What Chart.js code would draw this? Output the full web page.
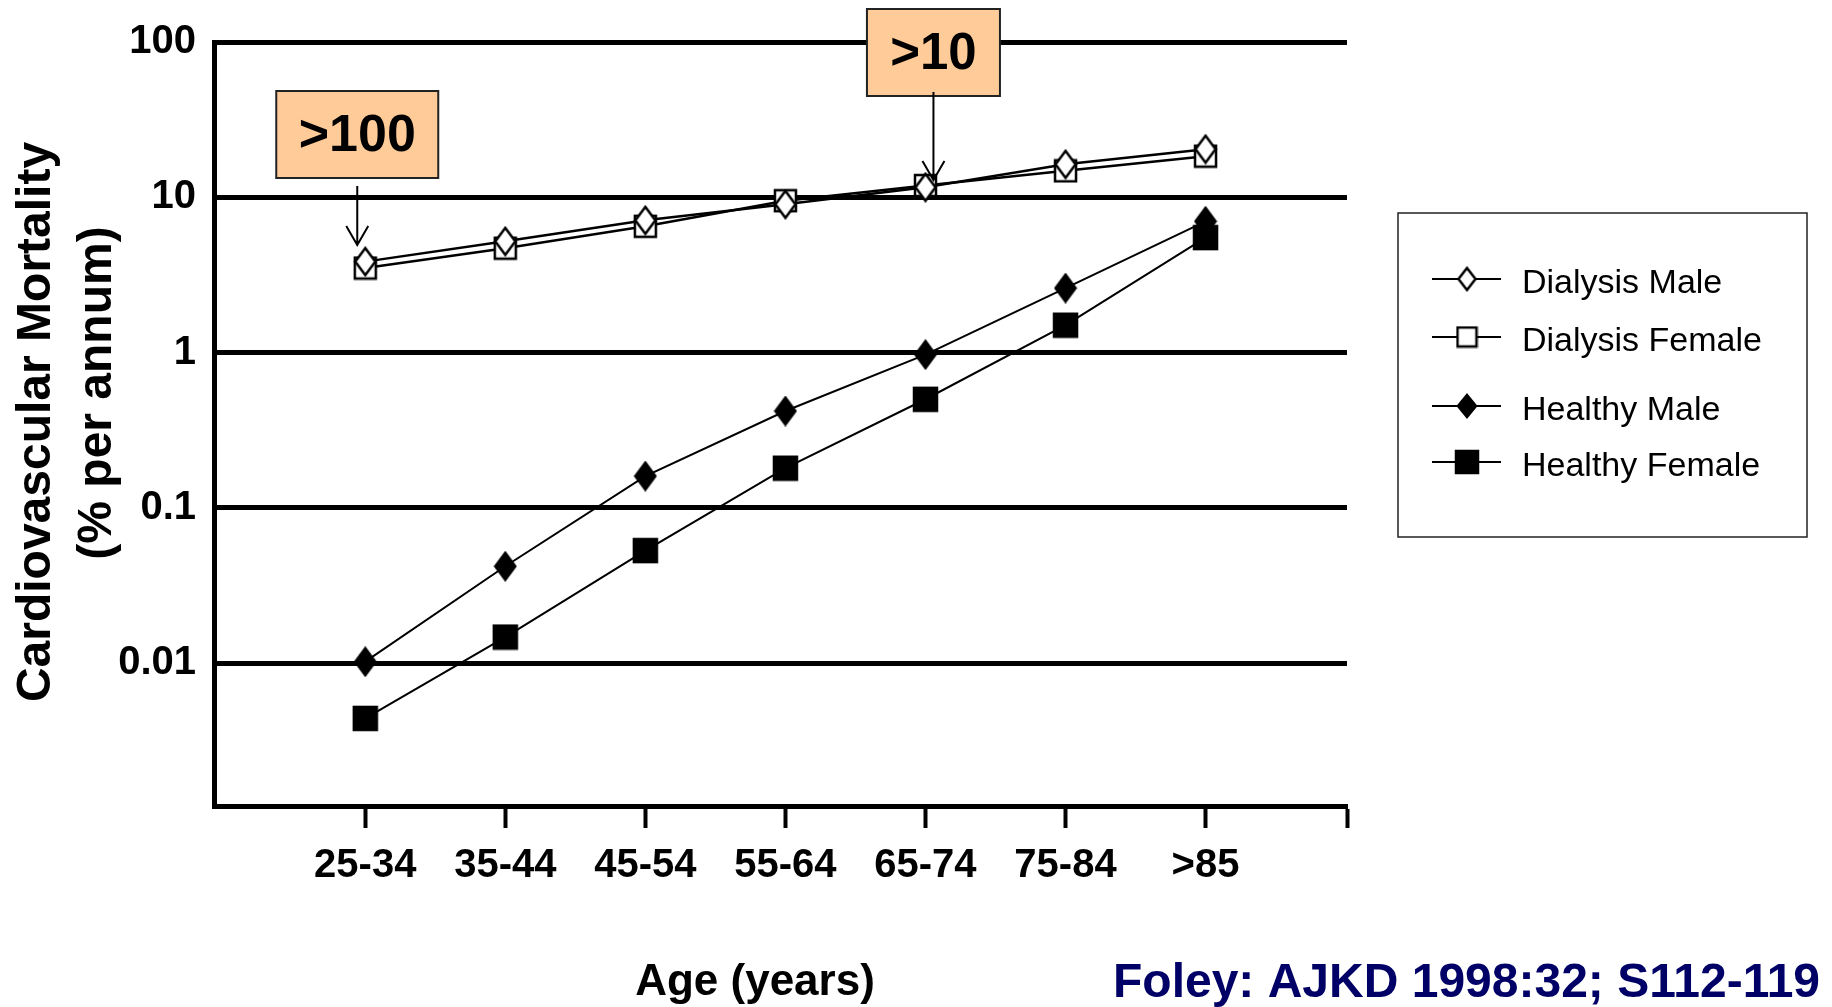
<!DOCTYPE html>
<html>
<head>
<meta charset="utf-8">
<script src="https://cdn.jsdelivr.net/npm/chart.js@4/dist/chart.umd.min.js"></script>
<style>
  html, body { margin: 0; padding: 0; background: #fff; }
  #wrap { width: 1832px; height: 1007px; }
</style>
</head>
<body>
<div id="wrap"><canvas id="chart" width="1832" height="1007"></canvas></div>
<script>
// data
const ageGroups = ['25-34', '35-44', '45-54', '55-64', '65-74', '75-84', '>85'];
const dialysisMale = [3.85, 5.2, 7.1, 9.0, 11.6, 16.3, 20.4];
const dialysisFemale = [3.5, 4.7, 6.5, 9.5, 11.9, 14.8, 18.4];
const healthyMale = [0.0102, 0.042, 0.16, 0.42, 0.97, 2.6, 7.0];
const healthyFemale = [0.0044, 0.0147, 0.053, 0.18, 0.50, 1.5, 5.5];
const yTickValues = [0.01, 0.1, 1, 10, 100];
const yTickLabels = ['0.01', '0.1', '1', '10', '100'];

const FONT = '"Liberation Sans", Arial, sans-serif';

// marker images (diamonds in the original are taller than wide)
function marker(shape, filled, w, h) {
    const c = document.createElement('canvas');
    c.width = w + 4;
    c.height = h + 4;
    const g = c.getContext('2d');
    const cx = c.width / 2, cy = c.height / 2;
    g.beginPath();
    if (shape === 'diamond') {
        g.moveTo(cx, cy - h / 2);
        g.lineTo(cx + w / 2, cy);
        g.lineTo(cx, cy + h / 2);
        g.lineTo(cx - w / 2, cy);
    } else {
        g.rect(cx - w / 2, cy - h / 2, w, h);
    }
    g.closePath();
    g.fillStyle = filled ? '#000' : '#fff';
    g.fill();
    g.lineWidth = 2.5;
    g.strokeStyle = '#000';
    g.stroke();
    return c;
}

function toPoints(values) {
    return values.map((v, i) => ({ x: i, y: v }));
}

const datasets = [
    { label: 'Dialysis Male', data: toPoints(dialysisMale), lineWidth: 2.5,
      marker: marker('diamond', false, 20, 27), legendMarker: marker('diamond', false, 17, 22) },
    { label: 'Dialysis Female', data: toPoints(dialysisFemale), lineWidth: 2.5,
      marker: marker('rect', false, 21, 21), legendMarker: marker('rect', false, 19, 19) },
    { label: 'Healthy Male', data: toPoints(healthyMale), lineWidth: 2,
      marker: marker('diamond', true, 20, 27), legendMarker: marker('diamond', true, 18, 22) },
    { label: 'Healthy Female', data: toPoints(healthyFemale), lineWidth: 2,
      marker: marker('rect', true, 23, 23), legendMarker: marker('rect', true, 22, 22) }
].map(d => ({
    label: d.label,
    data: d.data,
    borderColor: '#000',
    borderWidth: d.lineWidth,
    tension: 0,
    pointStyle: d.marker,
    pointRadius: 10,
    legendMarker: d.legendMarker
}));

// legend + titles + call-out boxes
const decorations = {
    id: 'decorations',
    afterDraw(chart) {
        const ctx = chart.ctx;
        const xs = chart.scales.x;
        ctx.save();

        // y title (two lines, rotated)
        ctx.fillStyle = '#000';
        ctx.font = 'bold 48px ' + FONT;
        ctx.textAlign = 'center';
        ctx.textBaseline = 'middle';
        ctx.save();
        ctx.translate(37, 422);
        ctx.rotate(-Math.PI / 2);
        ctx.fillText('Cardiovascular Mortality', 0, 0);
        ctx.restore();
        ctx.save();
        ctx.translate(98, 393);
        ctx.rotate(-Math.PI / 2);
        ctx.fillText('(% per annum)', 0, 0);
        ctx.restore();

        // x title
        ctx.textBaseline = 'alphabetic';
        ctx.font = 'bold 44px ' + FONT;
        ctx.fillText('Age (years)', 755, 995);

        // source note
        ctx.textAlign = 'left';
        ctx.font = 'bold 48px ' + FONT;
        ctx.fillStyle = '#000066';
        ctx.fillText('Foley: AJKD 1998:32; S112-119', 1113, 997);

        // legend box
        ctx.lineWidth = 1.5;
        ctx.strokeStyle = '#222';
        ctx.strokeRect(1398, 213, 409, 324);
        const rowY = [279, 337, 406, 462];
        ctx.font = '34px ' + FONT;
        ctx.fillStyle = '#000';
        ctx.textBaseline = 'middle';
        chart.data.datasets.forEach((ds, i) => {
            const y = rowY[i];
            ctx.beginPath();
            ctx.moveTo(1432, y);
            ctx.lineTo(1501, y);
            ctx.lineWidth = 2;
            ctx.strokeStyle = '#000';
            ctx.stroke();
            const m = ds.legendMarker;
            ctx.drawImage(m, 1467 - m.width / 2, y - m.height / 2);
            ctx.fillText(ds.label, 1522, y + 5);
        });

        // call-out boxes with arrows
        const callouts = [
            { text: '>100', idx: 0, dx: -8, top: 91, bottom: 178, w: 162, size: 52, lineStart: 186, tip: 245 },
            { text: '>10', idx: 4, dx: 8, top: 9, bottom: 96, w: 133, size: 51, lineStart: 92, tip: 180 }
        ];
        callouts.forEach(c => {
            const x = xs.getPixelForValue(c.idx) + c.dx;
            ctx.fillStyle = '#FFCC99';
            ctx.fillRect(x - c.w / 2, c.top, c.w, c.bottom - c.top);
            ctx.lineWidth = 2;
            ctx.strokeStyle = '#222';
            ctx.strokeRect(x - c.w / 2, c.top, c.w, c.bottom - c.top);
            ctx.fillStyle = '#000';
            ctx.font = 'bold ' + c.size + 'px ' + FONT;
            ctx.textAlign = 'center';
            ctx.textBaseline = 'middle';
            ctx.fillText(c.text, x, (c.top + c.bottom) / 2 + 2);
            ctx.beginPath();
            ctx.moveTo(x, c.lineStart);
            ctx.lineTo(x, c.tip);
            ctx.moveTo(x - 11, c.tip - 19);
            ctx.lineTo(x, c.tip);
            ctx.lineTo(x + 11, c.tip - 19);
            ctx.lineWidth = 2;
            ctx.strokeStyle = '#000';
            ctx.stroke();
        });
        ctx.restore();
    }
};

new Chart(document.getElementById('chart'), {
    type: 'line',
    data: { datasets: datasets },
    options: {
        responsive: false,
        animation: false,
        layout: { padding: { top: 40, right: 485, bottom: 0, left: 0 } },
        plugins: {
            legend: { display: false },
            tooltip: { enabled: false }
        },
        scales: {
            x: {
                type: 'linear',
                min: -1.08,
                max: 7.01,
                afterBuildTicks: s => {
                    s.ticks = [0, 1, 2, 3, 4, 5, 6, 7.01].map(v => ({ value: v }));
                },
                afterFit: s => { s.height = 201; },
                grid: { drawOnChartArea: false, drawTicks: true, tickLength: 22, tickWidth: 4, tickColor: '#000' },
                border: { color: '#000', width: 5 },
                ticks: {
                    autoSkip: false,
                    maxRotation: 0,
                    padding: 14,
                    color: '#000',
                    font: { family: FONT, size: 40, weight: 'bold' },
                    callback: v => ageGroups[v] ?? ''
                }
            },
            y: {
                type: 'logarithmic',
                min: 0.0012,
                max: 100,
                afterBuildTicks: s => {
                    s.ticks = yTickValues.map(v => ({ value: v }));
                },
                afterFit: s => { s.width = 214; },
                grid: { color: '#000', lineWidth: 5, drawTicks: false },
                border: { color: '#000', width: 5 },
                ticks: {
                    padding: 18,
                    color: '#000',
                    font: { family: FONT, size: 40, weight: 'bold' },
                    callback: v => yTickLabels[yTickValues.indexOf(v)] ?? ''
                }
            }
        }
    },
    plugins: [decorations]
});
</script>
</body>
</html>
